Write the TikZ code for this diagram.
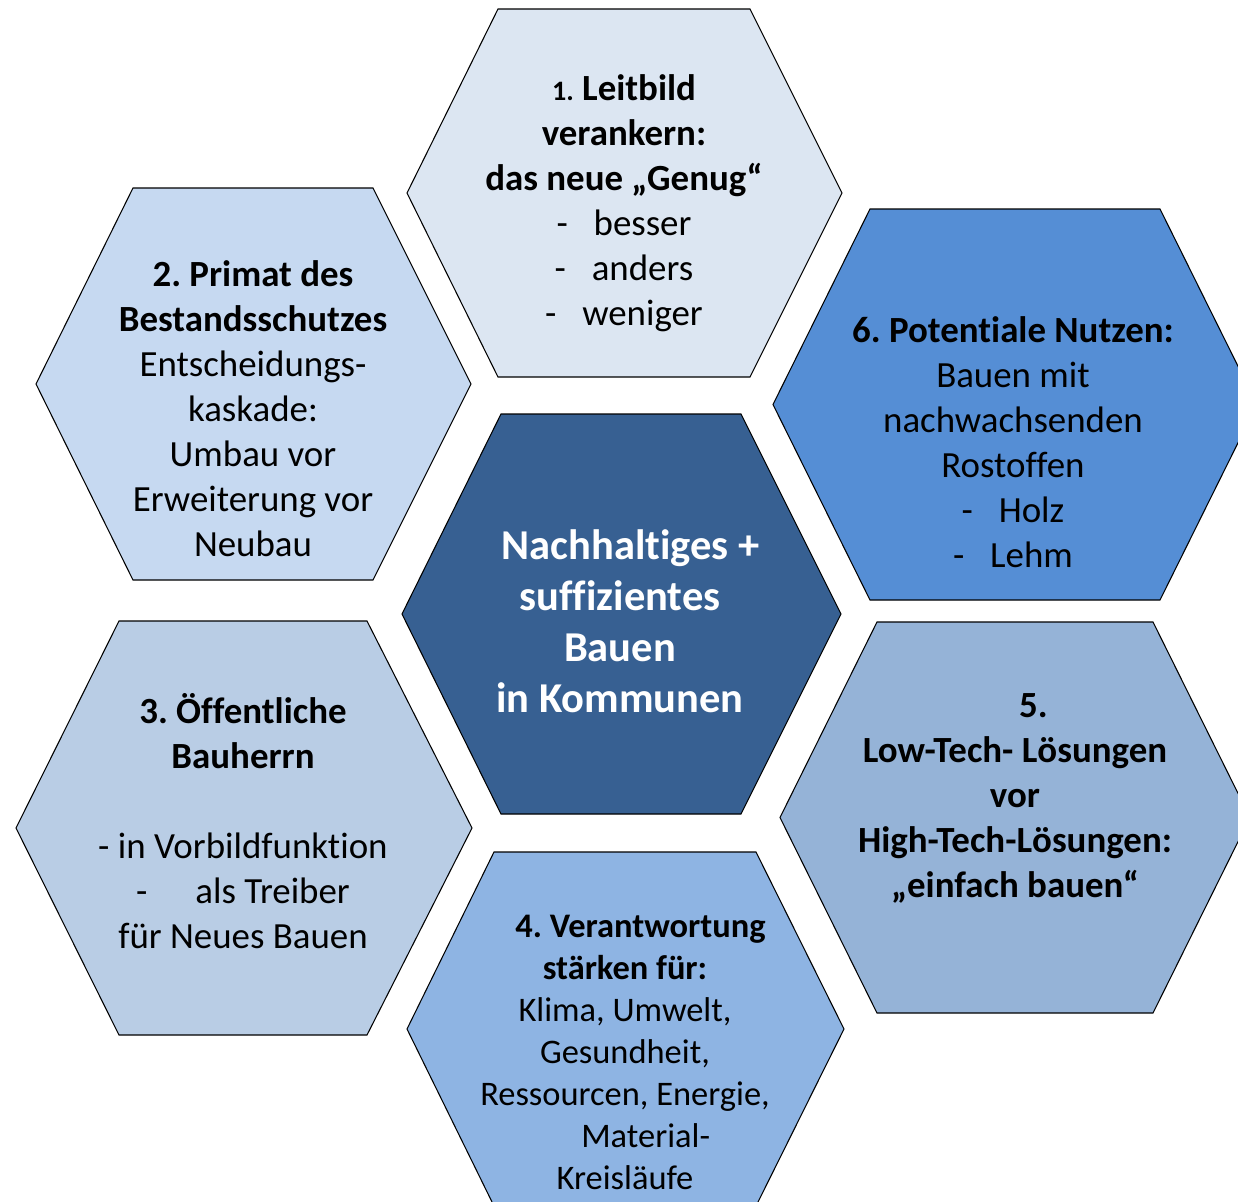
\documentclass[tikz,border=0pt]{standalone}
\usepackage{fontspec}
\setmainfont{Carlito}[Ligatures=NoCommon]
\frenchspacing
\usepackage{xcolor}
\definecolor{mitte}{HTML}{376092}
\definecolor{wabeeins}{HTML}{DCE6F2}
\definecolor{wabezwei}{HTML}{C6D9F1}
\definecolor{wabedrei}{HTML}{B9CDE5}
\definecolor{wabevier}{HTML}{8EB4E3}
\definecolor{wabefuenf}{HTML}{95B3D7}
\definecolor{wabesechs}{HTML}{558ED5}
\tikzset{
  wabe/.style={draw=black, line width=0.6pt, line join=miter},
  wabetext/.style={align=center, text=black, inner sep=0pt,
    font=\fontsize{21}{25.6}\selectfont},
  wabeklein/.style={wabetext, font=\fontsize{19.6}{23.9}\selectfont},
  mittetext/.style={wabetext, text=white,
    font=\bfseries\fontsize{24.2}{29}\selectfont}
}
% Wabe: Farbe, x links, x oben links, x oben rechts, x rechts, y oben, y unten
\newcommand{\wabe}[7]{%
  \draw[wabe, fill=#1] (#2,{(#6+#7)/2}) -- (#3,#6) -- (#4,#6)
    -- (#5,{(#6+#7)/2}) -- (#4,#7) -- (#3,#7) -- cycle;}

\begin{document}
\begin{tikzpicture}[x=0.02cm, y=-0.02cm]
    \useasboundingbox (0,0) rectangle (1238,1201);
    \clip (0,0) rectangle (1238,1201);

    \wabe{mitte}{402}{501}{741}{841}{414}{814}
    \wabe{wabeeins}{407}{498}{750}{842}{9}{377}
    \wabe{wabezwei}{36}{133}{373}{471}{188}{580}
    \wabe{wabedrei}{16}{119}{367}{472}{621}{1035}
    \wabe{wabevier}{407}{494}{756}{844}{852}{1206}
    \wabe{wabefuenf}{780}{877}{1153}{1250}{622}{1013}
    \wabe{wabesechs}{773}{870}{1160}{1257}{209}{600}

    \node[mittetext] (kern) at (620,621)
      {\hspace*{0.5em}Nachhaltiges +\\ suffizientes\\ Bauen\\ in Kommunen};
    \node[wabetext] (leitbild) at (624,203)
      {\textbf{{\fontsize{16}{20}\selectfont 1.} Leitbild}\\ \textbf{verankern:}\\
       \textbf{das neue „Genug“}\\ -\hspace{0.7em}besser\\ -\hspace{0.7em}anders\\
       -\hspace{0.7em}weniger};
    \node[wabetext] (bestand) at (253,409)
      {\textbf{2. Primat des}\\ \textbf{Bestandsschutzes}\\ Entscheidungs-\\ kaskade:\\
       Umbau vor\\ Erweiterung vor\\ Neubau};
    \node[wabetext] (bauherrn) at (243,821)
      {\textbf{3. Öffentliche}\\ \textbf{Bauherrn}\\ ~\\ - in Vorbildfunktion\\
       -\hspace{1.3em}als Treiber\\ für Neues Bauen};
    \node[wabeklein] (verantwortung) at (625,1052)
      {\hspace*{0.9em}\textbf{4. Verantwortung}\\ \textbf{stärken für:}\\ Klima, Umwelt,\\
       Gesundheit,\\ Ressourcen, Energie,\\ \hspace*{1.2em}Material-\\ Kreisläufe};
    \node[wabetext] (lowtech) at (1015,798)
      {\hspace*{1em}\textbf{5.}\\ \textbf{Low-Tech- Lösungen}\\ \textbf{vor}\\
       \textbf{High-Tech-Lösungen:}\\ \textbf{„einfach bauen“}};
    \node[wabetext] (potentiale) at (1013,442)
      {\textbf{6. Potentiale Nutzen:}\\ Bauen mit\\ nachwachsenden\\ Rostoffen\\
       -\hspace{0.7em}Holz\\ -\hspace{0.7em}Lehm};
\end{tikzpicture}
\end{document}
